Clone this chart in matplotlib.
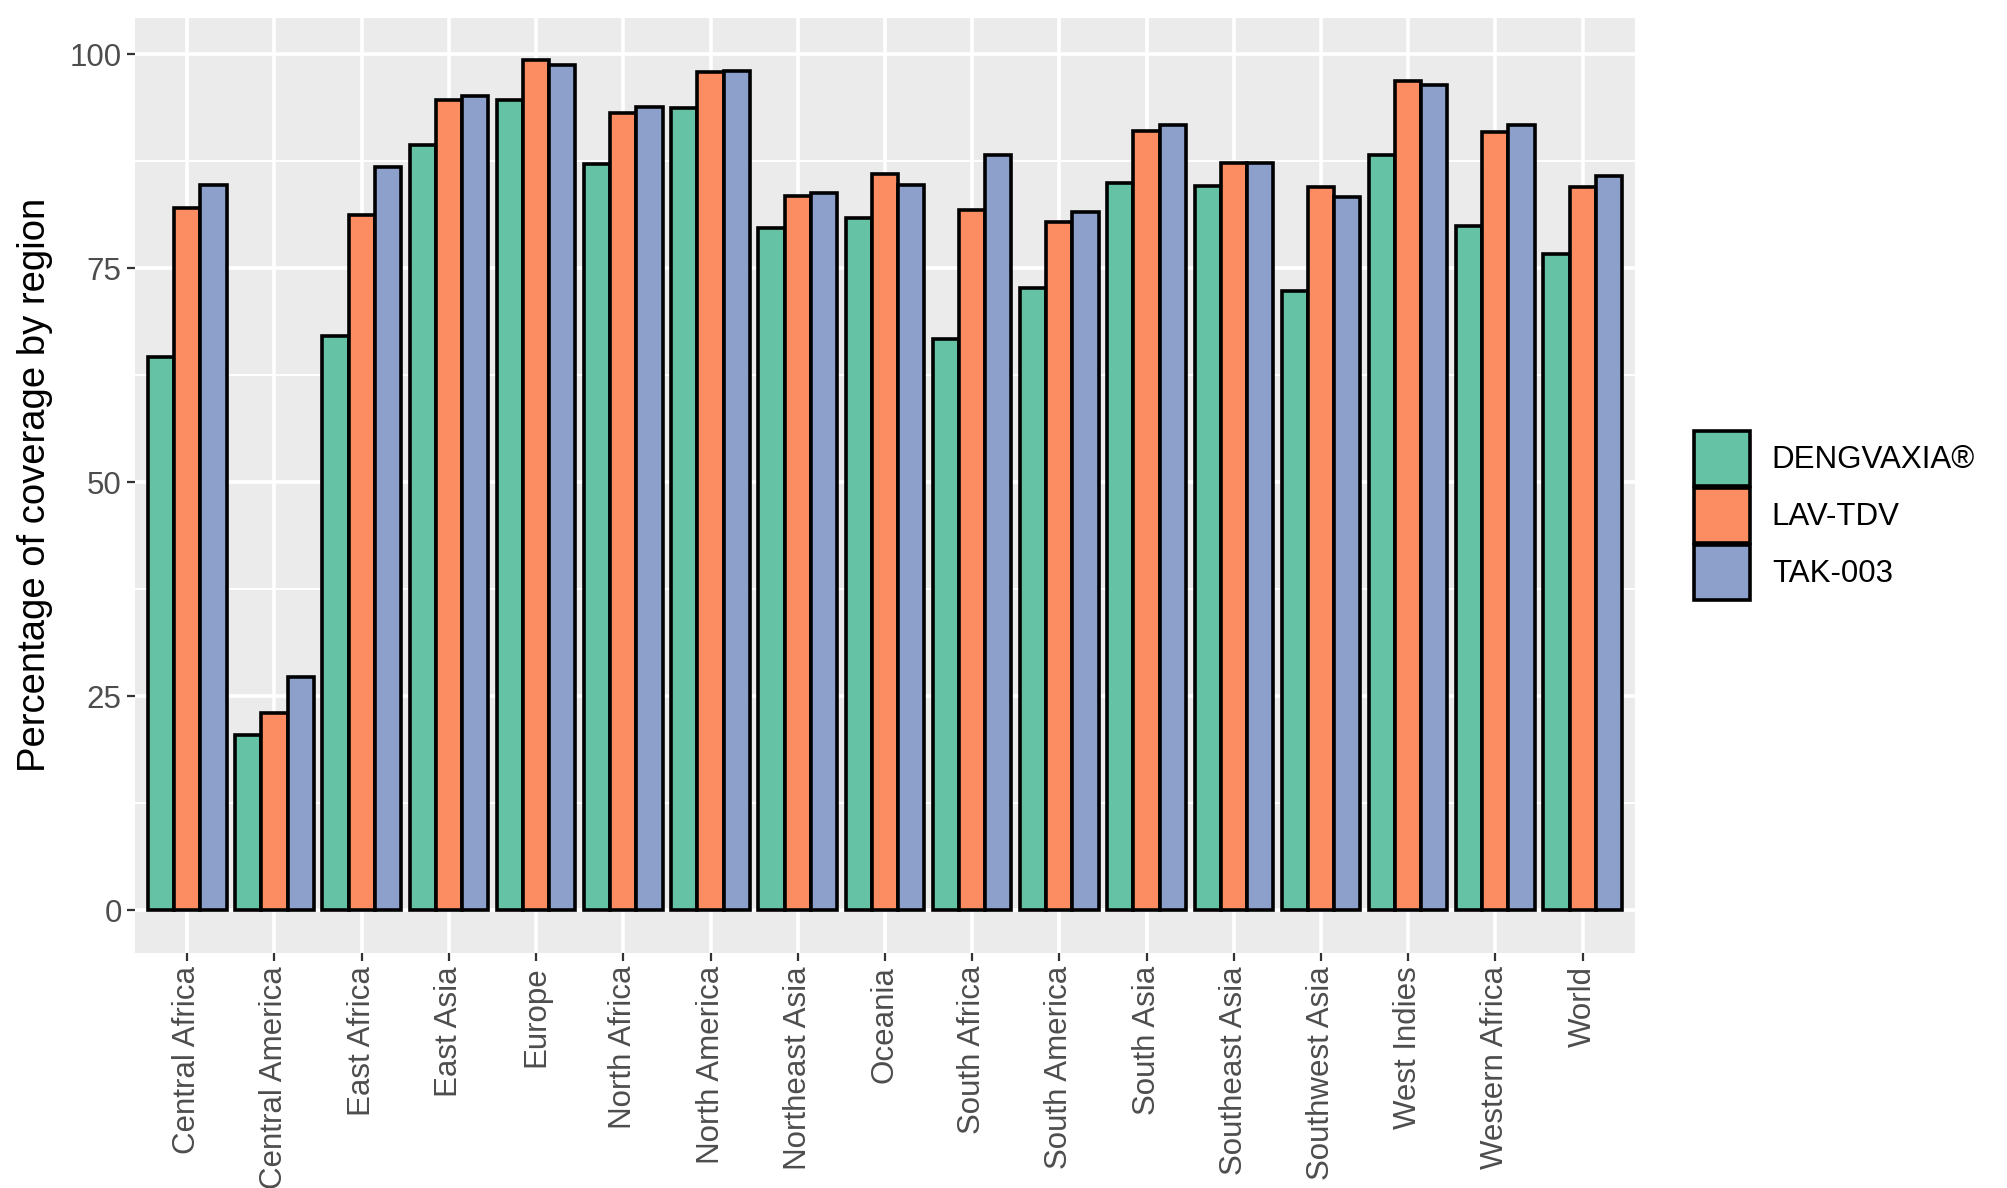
import matplotlib
matplotlib.use("Agg")
import matplotlib.pyplot as plt
from matplotlib.patches import Patch
import numpy as np

regions = ['Central Africa', 'Central America', 'East Africa', 'East Asia', 'Europe',
           'North Africa', 'North America', 'Northeast Asia', 'Oceania', 'South Africa',
           'South America', 'South Asia', 'Southeast Asia', 'Southwest Asia',
           'West Indies', 'Western Africa', 'World']
dengvaxia = [64.7, 20.5, 67.1, 89.4, 94.7, 87.2, 93.7, 79.7, 80.9, 66.8,
             72.7, 85.0, 84.6, 72.4, 88.3, 80.0, 76.7]
lav_tdv = [82.0, 23.0, 81.2, 94.7, 99.3, 93.1, 98.0, 83.5, 86.0, 81.8,
           80.4, 91.0, 87.3, 84.5, 96.9, 90.9, 84.5]
tak_003 = [84.8, 27.2, 86.9, 95.2, 98.8, 93.9, 98.1, 83.8, 84.8, 88.2,
           81.6, 91.8, 87.3, 83.4, 96.4, 91.7, 85.8]
vaccines = ['DENGVAXIA®', 'LAV-TDV', 'TAK-003']
colors = ['#66C2A5', '#FC8D62', '#8DA0CB']

plt.rcParams['font.family'] = ['Liberation Sans', 'DejaVu Sans']

fig = plt.figure(figsize=(20.08, 11.88), dpi=100)
ax = fig.add_axes([0.0672, 0.198, 0.747, 0.7869])
ax.set_facecolor('#EBEBEB')

x = np.arange(1, len(regions) + 1)
width = 0.3
for j, (vals, col) in enumerate(zip([dengvaxia, lav_tdv, tak_003], colors)):
    ax.bar(x + (j - 1) * width, vals, width=width, color=col,
           edgecolor='black', linewidth=2.6, zorder=3)

ymax = max(max(dengvaxia), max(lav_tdv), max(tak_003))
pad = 0.05 * ymax
ax.set_ylim(-pad, ymax + pad)
ax.set_xlim(0.4, len(regions) + 0.6)

# gridlines like ggplot
for v in [12.5, 37.5, 62.5, 87.5]:
    ax.axhline(v, color='white', linewidth=1.4, zorder=1)
for v in [0, 25, 50, 75, 100]:
    ax.axhline(v, color='white', linewidth=2.6, zorder=1)
for v in x:
    ax.axvline(v, color='white', linewidth=2.6, zorder=1)

ax.set_yticks([0, 25, 50, 75, 100])
ax.set_yticklabels(['0', '25', '50', '75', '100'])
ax.set_xticks(x)
ax.set_xticklabels(regions, rotation=90, ha='center', va='top')
ax.tick_params(axis='both', labelsize=22.5, labelcolor='#4D4D4D', color='#333333',
               length=5.5, width=1.6, pad=4)

for s in ax.spines.values():
    s.set_visible(False)

ax.set_ylabel('Percentage of coverage by region', fontsize=27.5, color='black', labelpad=12)

handles = [Patch(facecolor=c, edgecolor='black', linewidth=2.6) for c in colors]
fig.legend(handles, vaccines, loc='center left', bbox_to_anchor=(0.8435, 0.566),
           frameon=False, fontsize=22.5, handlelength=1.8, handleheight=2.35,
           labelspacing=0.05, handletextpad=0.7, borderpad=0, borderaxespad=0)

fig.savefig('out.png', dpi=100)
